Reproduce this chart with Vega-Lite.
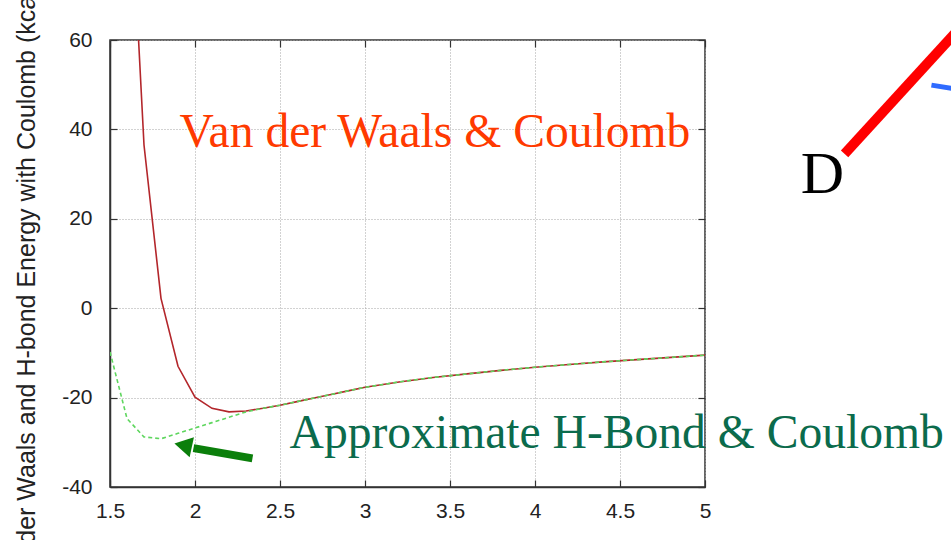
{
  "$schema": "https://vega.github.io/schema/vega-lite/v6.json",
  "width": 595,
  "height": 447,
  "autosize": {"type": "none"},
  "padding": {"left": 110, "top": 40, "right": 246, "bottom": 53},
  "background": "white",
  "config": {
    "view": {"stroke": "#333", "strokeWidth": 1.5},
    "axis": {
      "labelFont": "Liberation Sans",
      "labelFontSize": 21,
      "labelColor": "#222",
      "labelFlush": false,
      "labelOverlap": false,
      "domainColor": "#333",
      "domainWidth": 1.5,
      "tickColor": "#333",
      "tickWidth": 1.2,
      "tickSize": -7,
      "gridColor": "#a5a5a5",
      "gridDash": [1, 2],
      "gridWidth": 1,
      "titleFont": "Liberation Sans",
      "titleFontWeight": "normal",
      "titleColor": "#222"
    }
  },
  "datasets": {
    "curves": [
      {"x": 1.6, "y": 110, "series": "vdw"},
      {"x": 1.7, "y": 36.5, "series": "vdw"},
      {"x": 1.8, "y": 2.2, "series": "vdw"},
      {"x": 1.9, "y": -13, "series": "vdw"},
      {"x": 2.0, "y": -19.9, "series": "vdw"},
      {"x": 2.1, "y": -22.4, "series": "vdw"},
      {"x": 2.2, "y": -23.2, "series": "vdw"},
      {"x": 2.3, "y": -23.0, "series": "vdw"},
      {"x": 2.4, "y": -22.4, "series": "vdw"},
      {"x": 2.5, "y": -21.7, "series": "vdw"},
      {"x": 2.6, "y": -20.9, "series": "vdw"},
      {"x": 2.7, "y": -20.1, "series": "vdw"},
      {"x": 2.8, "y": -19.3, "series": "vdw"},
      {"x": 2.9, "y": -18.5, "series": "vdw"},
      {"x": 3.0, "y": -17.7, "series": "vdw"},
      {"x": 3.2, "y": -16.5, "series": "vdw"},
      {"x": 3.4, "y": -15.5, "series": "vdw"},
      {"x": 3.6, "y": -14.7, "series": "vdw"},
      {"x": 3.8, "y": -13.9, "series": "vdw"},
      {"x": 4.0, "y": -13.2, "series": "vdw"},
      {"x": 4.2, "y": -12.6, "series": "vdw"},
      {"x": 4.4, "y": -12.0, "series": "vdw"},
      {"x": 4.6, "y": -11.5, "series": "vdw"},
      {"x": 4.8, "y": -11.0, "series": "vdw"},
      {"x": 5.0, "y": -10.5, "series": "vdw"},
      {"x": 1.5, "y": -9.8, "series": "hb"},
      {"x": 1.6, "y": -24.7, "series": "hb"},
      {"x": 1.7, "y": -28.8, "series": "hb"},
      {"x": 1.8, "y": -29.2, "series": "hb"},
      {"x": 1.9, "y": -28.0, "series": "hb"},
      {"x": 2.0, "y": -26.8, "series": "hb"},
      {"x": 2.1, "y": -25.6, "series": "hb"},
      {"x": 2.2, "y": -24.4, "series": "hb"},
      {"x": 2.3, "y": -23.2, "series": "hb"},
      {"x": 2.4, "y": -22.4, "series": "hb"},
      {"x": 2.5, "y": -21.7, "series": "hb"},
      {"x": 2.6, "y": -20.9, "series": "hb"},
      {"x": 2.7, "y": -20.1, "series": "hb"},
      {"x": 2.8, "y": -19.3, "series": "hb"},
      {"x": 2.9, "y": -18.5, "series": "hb"},
      {"x": 3.0, "y": -17.7, "series": "hb"},
      {"x": 3.2, "y": -16.5, "series": "hb"},
      {"x": 3.4, "y": -15.5, "series": "hb"},
      {"x": 3.6, "y": -14.7, "series": "hb"},
      {"x": 3.8, "y": -13.9, "series": "hb"},
      {"x": 4.0, "y": -13.2, "series": "hb"},
      {"x": 4.2, "y": -12.6, "series": "hb"},
      {"x": 4.4, "y": -12.0, "series": "hb"},
      {"x": 4.6, "y": -11.5, "series": "hb"},
      {"x": 4.8, "y": -11.0, "series": "hb"},
      {"x": 5.0, "y": -10.5, "series": "hb"}
    ],
    "labels": [
      {"x": 1.909, "y": 36, "text": "Van der Waals & Coulomb", "kind": "vdw"},
      {"x": 2.556, "y": -31.3, "text": "Approximate H-Bond & Coulomb", "kind": "hb"}
    ],
    "arrow_shaft": [
      {"x": 2.338, "y": -33.6},
      {"x": 1.991, "y": -31.3}
    ],
    "arrow_head": [
      {"x": 1.93, "y": -30.7}
    ],
    "slide_text": [
      {"x": 5.691, "y": 25.75, "text": "D"}
    ],
    "slide_lines": [
      {"x": 5.821, "y": 34.5, "seg": "red"},
      {"x": 6.526, "y": 63.8, "seg": "red"},
      {"x": 6.332, "y": 49.9, "seg": "blue"},
      {"x": 6.526, "y": 48.7, "seg": "blue"}
    ]
  },
  "resolve": {"axis": {"x": "independent", "y": "independent"}},
  "layer": [
    {
      "data": {"name": "curves"},
      "transform": [{"filter": "datum.series === 'vdw'"}],
      "mark": {"type": "line", "clip": true, "color": "#b3262b", "strokeWidth": 1.6},
      "encoding": {
        "x": {
          "field": "x", "type": "quantitative",
          "scale": {"domain": [1.5, 5], "nice": false, "zero": false},
          "axis": {"values": [1.5, 2, 2.5, 3, 3.5, 4, 4.5, 5], "labelExpr": "toString(datum.value)", "title": null, "grid": true, "labelPadding": 20}
        },
        "y": {
          "field": "y", "type": "quantitative",
          "scale": {"domain": [-40, 60], "nice": false, "zero": false},
          "axis": {"values": [-40, -20, 0, 20, 40, 60], "labelExpr": "toString(datum.value)", "title": "Van der Waals and H-bond Energy with Coulomb (kcal/mol)", "titleFontSize": 25, "titlePadding": 22, "grid": true, "labelPadding": 25}
        }
      }
    },
    {
      "data": {"name": "curves"},
      "transform": [{"filter": "datum.series === 'hb'"}],
      "mark": {"type": "line", "clip": true, "color": "#5ed65e", "strokeWidth": 1.6, "strokeDash": [4, 3]},
      "encoding": {
        "x": {
          "field": "x", "type": "quantitative",
          "axis": {"orient": "top", "values": [1.5, 2, 2.5, 3, 3.5, 4, 4.5, 5], "labels": false, "grid": false, "domain": false, "title": null}
        },
        "y": {
          "field": "y", "type": "quantitative",
          "axis": {"orient": "right", "values": [-40, -20, 0, 20, 40, 60], "labels": false, "grid": false, "domain": false, "title": null}
        }
      }
    },
    {
      "data": {"name": "labels"},
      "transform": [{"filter": "datum.kind === 'vdw'"}],
      "mark": {"type": "text", "font": "Liberation Serif", "fontSize": 47.6, "align": "left", "baseline": "alphabetic", "color": "#ff3a00"},
      "encoding": {
        "x": {"field": "x", "type": "quantitative", "axis": null},
        "y": {"field": "y", "type": "quantitative", "axis": null},
        "text": {"field": "text"}
      }
    },
    {
      "data": {"name": "labels"},
      "transform": [{"filter": "datum.kind === 'hb'"}],
      "mark": {"type": "text", "font": "Liberation Serif", "fontSize": 47.6, "align": "left", "baseline": "alphabetic", "color": "#0b6b4c"},
      "encoding": {
        "x": {"field": "x", "type": "quantitative", "axis": null},
        "y": {"field": "y", "type": "quantitative", "axis": null},
        "text": {"field": "text"}
      }
    },
    {
      "data": {"name": "arrow_shaft"},
      "mark": {"type": "line", "color": "#0b7f0b", "strokeWidth": 8, "strokeCap": "butt"},
      "encoding": {
        "x": {"field": "x", "type": "quantitative", "axis": null},
        "y": {"field": "y", "type": "quantitative", "axis": null}
      }
    },
    {
      "data": {"name": "arrow_head"},
      "mark": {"type": "point", "shape": "triangle-left", "filled": true, "size": 420, "angle": 12, "color": "#0b7f0b", "opacity": 1},
      "encoding": {
        "x": {"field": "x", "type": "quantitative", "axis": null},
        "y": {"field": "y", "type": "quantitative", "axis": null}
      }
    },
    {
      "data": {"name": "slide_text"},
      "mark": {"type": "text", "font": "Liberation Serif", "fontSize": 60, "align": "center", "baseline": "alphabetic", "color": "#000"},
      "encoding": {
        "x": {"field": "x", "type": "quantitative", "axis": null},
        "y": {"field": "y", "type": "quantitative", "axis": null},
        "text": {"field": "text"}
      }
    },
    {
      "data": {"name": "slide_lines"},
      "transform": [{"filter": "datum.seg === 'red'"}],
      "mark": {"type": "line", "color": "#ff0000", "strokeWidth": 10, "strokeCap": "butt"},
      "encoding": {
        "x": {"field": "x", "type": "quantitative", "axis": null},
        "y": {"field": "y", "type": "quantitative", "axis": null}
      }
    },
    {
      "data": {"name": "slide_lines"},
      "transform": [{"filter": "datum.seg === 'blue'"}],
      "mark": {"type": "line", "color": "#2f6bff", "strokeWidth": 5, "strokeCap": "butt"},
      "encoding": {
        "x": {"field": "x", "type": "quantitative", "axis": null},
        "y": {"field": "y", "type": "quantitative", "axis": null}
      }
    }
  ]
}
